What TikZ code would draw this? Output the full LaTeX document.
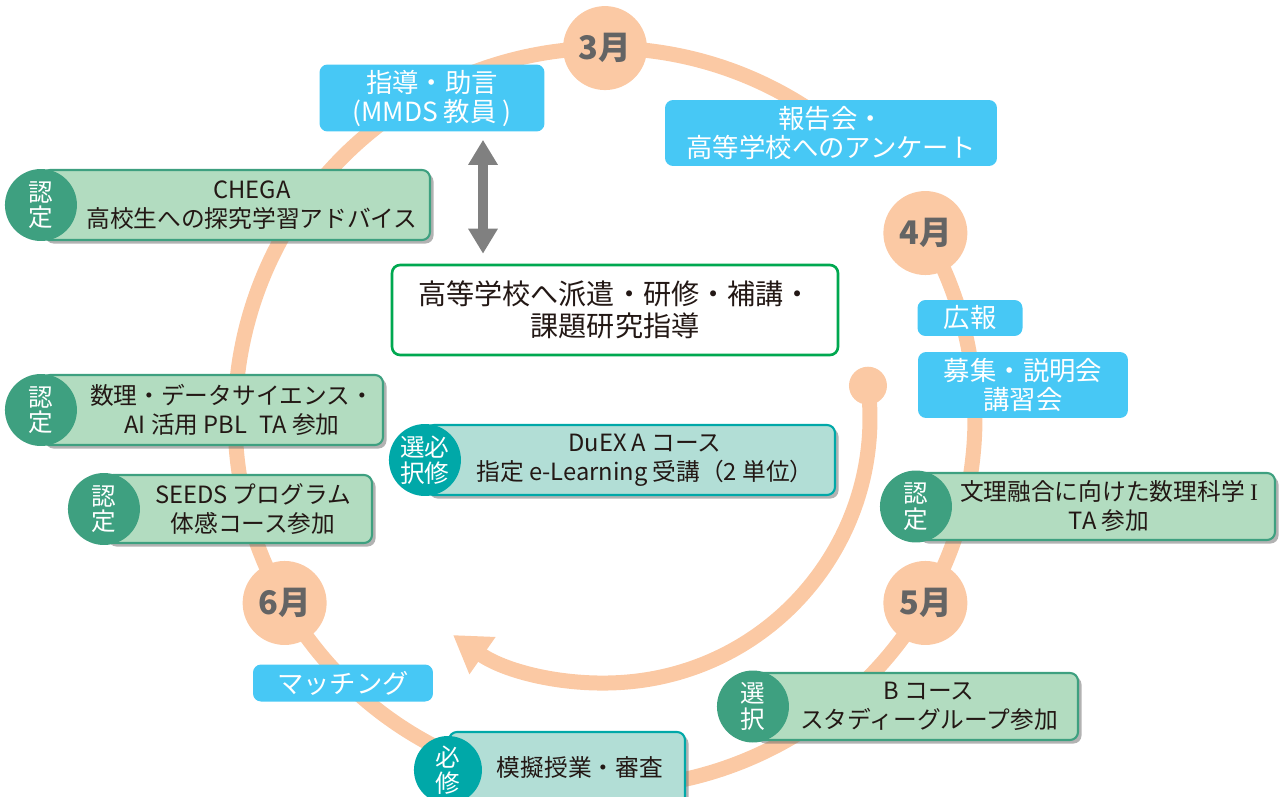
\documentclass[tikz,border=0pt]{standalone}
\usepackage{fontspec}
\setmainfont{Noto Sans CJK JP}
\newfontfamily\romannum{Liberation Serif}
\usetikzlibrary{arrows.meta,shadows,fit,calc}
\definecolor{peach}{RGB}{251,201,164}
\definecolor{skyblue}{RGB}{71,200,245}
\definecolor{leaf}{RGB}{178,220,192}
\definecolor{leafdark}{RGB}{62,160,128}
\definecolor{mint}{RGB}{178,222,214}
\definecolor{tealdark}{RGB}{0,168,168}
\definecolor{framegreen}{RGB}{0,168,80}
\definecolor{monthgray}{RGB}{100,100,100}
\definecolor{ink}{RGB}{35,24,21}
\tikzset{
 bluebox/.style={fill=skyblue,rounded corners=0.16cm,text=white,align=center,inner sep=0,font=\fontsize{15}{16.5}\selectfont},
 month/.style={circle,fill=peach,minimum size=1.68cm,inner sep=0,text=monthgray,font=\fontsize{18.5}{18.5}\selectfont\bfseries},
 gbox/.style={draw=leafdark,line width=1.2pt,fill=leaf,rounded corners=0.16cm,inner sep=0,drop shadow={shadow xshift=0.07cm,shadow yshift=-0.07cm,fill=black!60}},
 tbox/.style={gbox,draw=tealdark,fill=mint},
 gbadge/.style={circle,fill=leafdark,minimum size=1.44cm,inner sep=0,text=white,align=center,font=\fontsize{14}{14.5}\selectfont},
 tbadge/.style={gbadge,fill=tealdark},
 itemtext/.style={text=ink,align=center,font=\fontsize{13.5}{16.5}\selectfont}
}
\begin{document}
\begin{tikzpicture}[x=0.02cm,y=0.02cm]
\clip (0,0) rectangle (1281,796);
\coordinate (O) at (605,378);
\draw[peach,line width=0.3cm] (O) ++(30:7.4cm) arc[start angle=30,end angle=-308,radius=7.4cm];
\draw[peach,line width=0.3cm,-{Triangle[length=0.72cm,width=0.86cm]}] (O) ++(7:5.3cm) coordinate (start) arc[start angle=7,end angle=-125,radius=5.3cm];
\fill[peach] (start) circle[radius=0.38cm];
\foreach \a/\m in {90/3,30/4,-30/5,210/6}
  \node[month] (m\m) at ($(O)+(\a:7.4cm)$) {\m 月};
\node[bluebox,minimum width=4.5cm,minimum height=1.34cm] (guide) at (432,698) {指導・助言\\(MMDS 教員 )};
\node[bluebox,minimum width=6.64cm,minimum height=1.32cm] (report) at (831,663) {報告会・\\高等学校へのアンケート};
\node[bluebox,minimum width=2.1cm,minimum height=0.72cm] (koho) at (970,478) {広報};
\node[bluebox,minimum width=4.2cm,minimum height=1.32cm] (boshu) at (1023,411) {募集・説明会\\講習会};
\node[bluebox,minimum width=3.6cm,minimum height=0.74cm] (match) at (343,113) {マッチング};
\node[draw=framegreen,line width=1.5pt,fill=white,rounded corners=0.16cm,minimum width=8.92cm,minimum height=1.8cm,align=center,text=ink,font=\fontsize{16}{18}\selectfont] (dispatch) at (615,486) {高等学校へ派遣・研修・補講・\\課題研究指導};
\coordinate (ax) at (483,0);
\draw[gray,line width=0.2cm,{Triangle[length=0.5cm,width=0.56cm]}-{Triangle[length=0.5cm,width=0.56cm]},shorten <=0.16cm,shorten >=0.2cm] (guide.south -| ax) -- (dispatch.north -| ax);
\node[gbox,fit={(42,556)(430,626)}] (chegabox) {};
\node[itemtext] (chega) at (252,591) {CHEGA\\高校生への探究学習アドバイス};
\node[gbadge] (chegabadge) at (chegabox.west) {認\\定};
\node[gbox,fit={(42,351)(383,421)}] (dsbox) {};
\node[itemtext] (ds) at (232,386) {数理・データサイエンス・\\AI 活用 PBL\hspace{0.5em}TA 参加};
\node[gbadge] (dsbadge) at (dsbox.west) {認\\定};
\node[gbox,fit={(105,253)(372,321)}] (seedsbox) {};
\node[itemtext] (seeds) at (253,287) {SEEDS プログラム\\体感コース参加};
\node[gbadge] (seedsbadge) at (seedsbox.west) {認\\定};
\node[tbox,fit={(426,301)(835,371)}] (duexbox) {};
\node[itemtext] (duex) at (645,336) {DuEX A コース\\指定 e-Learning 受講（2 単位）};
\node[tbadge] (duexbadge) at (duexbox.west) {選必\\択修};
\node[gbox,fit={(917,256)(1275,323)}] (bunribox) {};
\node[itemtext] (bunri) at (1109,290) {文理融合に向けた数理科学 {\romannum I}\\TA 参加};
\node[gbadge] (bunribadge) at (bunribox.west) {認\\定};
\node[gbox,fit={(754,56)(1078,123)}] (bcoursebox) {};
\node[itemtext] (bcourse) at (929,90) {B コース\\スタディーグループ参加};
\node[gbadge] (bcoursebadge) at (bcoursebox.west) {選\\択};
\node[tbox,fit={(449,-12)(685,64)}] (mogibox) {};
\node[itemtext] (mogi) at (580,29) {模擬授業・審査};
\node[tbadge,minimum size=1.36cm] (mogibadge) at (mogibox.west) {必\\修};
\end{tikzpicture}
\end{document}
